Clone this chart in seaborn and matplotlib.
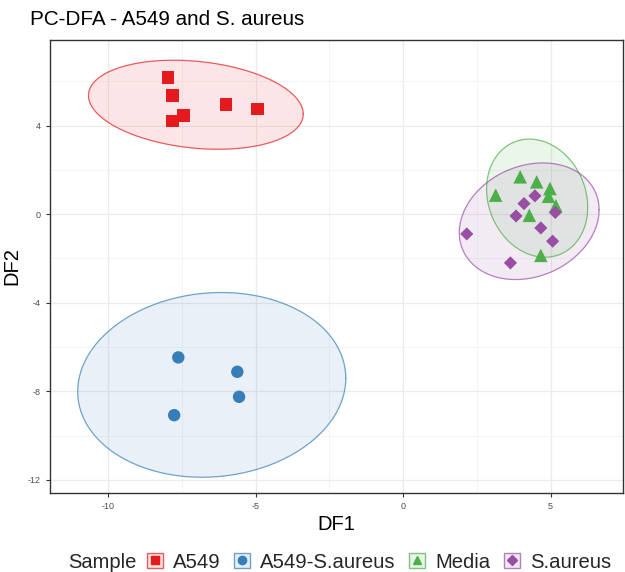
import numpy as np
import pandas as pd
import matplotlib
matplotlib.use("Agg")
import matplotlib.pyplot as plt
import seaborn as sns
from matplotlib.patches import Rectangle
from matplotlib.lines import Line2D
from matplotlib.ticker import MultipleLocator

# ---- data ----
a549_x = [-7.97, -7.81, -7.81, -7.45, -6.00, -4.94]
a549_y = [6.17, 5.35, 4.21, 4.47, 4.95, 4.75]
a549sa_x = [-7.62, -5.62, -5.56, -7.76]
a549sa_y = [-6.47, -7.12, -8.25, -9.08]
media_x = [3.97, 4.53, 4.98, 4.93, 3.14, 5.18, 4.28, 4.67]
media_y = [1.69, 1.46, 1.16, 0.81, 0.86, 0.38, -0.05, -1.86]
sa_x = [4.47, 4.10, 3.83, 5.16, 4.67, 5.07, 2.16, 3.64]
sa_y = [0.83, 0.48, -0.08, 0.08, -0.62, -1.22, -0.89, -2.20]

groups = ["A549", "A549-S.aureus", "Media", "S.aureus"]
colors = ["#E41A1C", "#377EB8", "#4DAF4A", "#984EA3"]
markers = ["s", "o", "^", "D"]
sizes = [85, 80, 95, 45]

df = pd.DataFrame({
    "DF1": a549_x + a549sa_x + media_x + sa_x,
    "DF2": a549_y + a549sa_y + media_y + sa_y,
    "Sample": (["A549"] * len(a549_x) + ["A549-S.aureus"] * len(a549sa_x)
               + ["Media"] * len(media_x) + ["S.aureus"] * len(sa_x)),
})


def cov_trob(x, nu=5, maxit=25, tol=0.01):
    n, p = x.shape
    wt = np.ones(n)
    loc = x.mean(axis=0)
    w = np.sqrt(wt)
    for _ in range(maxit):
        w0 = w
        X = x - loc
        _, d, vt = np.linalg.svd(np.sqrt(w / w.sum())[:, None] * X, full_matrices=False)
        wX = X @ vt.T @ np.diag(1 / d)
        Q = (wX ** 2).sum(axis=1)
        w = wt * (nu + p) / (nu + Q)
        loc = (w[:, None] * x).sum(axis=0) / w.sum()
        if np.all(np.abs(w - w0) < tol):
            break
    X = x - loc
    cov = (np.sqrt(w)[:, None] * X).T @ (np.sqrt(w)[:, None] * X) / wt.sum()
    return loc, cov


sns.set_theme(style="white")
plt.rcParams["font.family"] = ["Liberation Sans", "DejaVu Sans"]
plt.rcParams["axes.unicode_minus"] = False

fig = plt.figure(figsize=(6.25, 5.72), dpi=100)
ax = fig.add_axes([0.080, 0.138, 0.917, 0.792])

# stat_ellipse-like (multivariate t) 95% ellipses
level = 0.95
t = np.linspace(0, 2 * np.pi, 200)
for g, c in zip(groups, colors):
    xy = df[df["Sample"] == g][["DF1", "DF2"]].to_numpy()
    n = len(xy)
    mu, cov = cov_trob(xy)
    d = n - 1
    fq = d / 2 * ((1 - level) ** (-2 / d) - 1)
    r = np.sqrt(2 * fq)
    ch = np.linalg.cholesky(cov).T  # upper triangular
    circ = np.column_stack([np.cos(t), np.sin(t)])
    pts = mu + r * circ @ ch
    ax.fill(pts[:, 0], pts[:, 1], color=c, alpha=0.11, lw=0, zorder=1)
    ax.plot(pts[:, 0], pts[:, 1], color=c, alpha=0.7, lw=0.9, zorder=2)

for g, c, m, s in zip(groups, colors, markers, sizes):
    sub = df[df["Sample"] == g]
    sns.scatterplot(data=sub, x="DF1", y="DF2", color=c, marker=m, s=s,
                    edgecolor="none", ax=ax, zorder=3, legend=False)

ax.set_xlim(-11.97, 7.46)
ax.set_ylim(-12.6, 7.87)
ax.xaxis.set_major_locator(MultipleLocator(5))
ax.xaxis.set_minor_locator(MultipleLocator(2.5))
ax.yaxis.set_major_locator(MultipleLocator(4))
ax.yaxis.set_minor_locator(MultipleLocator(2))
ax.grid(True, which="major", color="#EBEBEB", lw=0.9, zorder=0)
ax.grid(True, which="minor", color="#F3F3F3", lw=0.6, zorder=0)
ax.set_axisbelow(True)
for sp in ax.spines.values():
    sp.set_color("#333333")
    sp.set_linewidth(1.0)
ax.tick_params(axis="both", which="major", labelsize=6.5, labelcolor="#4D4D4D",
               color="#333333", length=3, width=0.8, direction="out",
               bottom=True, left=True)
ax.tick_params(axis="both", which="minor", length=0)
ax.set_xlabel("DF1", fontsize=14.5, color="black", labelpad=3)
ax.set_ylabel("DF2", fontsize=14.5, color="black", labelpad=5)
fig.text(0.048, 0.966, "PC-DFA - A549 and S. aureus", fontsize=14.9,
         color="black", ha="left", va="center")

# legend
handles = []
for c, m in zip(colors, markers):
    box = Rectangle((0, 0), 1, 1, facecolor=matplotlib.colors.to_rgba(c, 0.12),
                    edgecolor=matplotlib.colors.to_rgba(c, 0.7), lw=1.0)
    mk = Line2D([], [], color=c, marker=m, linestyle="none",
                markersize=6 if m != "D" else 5)
    handles.append((box, mk))
fig.text(0.109, 0.017, "Sample", fontsize=14.5, ha="left", va="center")
leg = fig.legend(handles, groups, loc="center left", bbox_to_anchor=(0.235, 0.017),
                 ncol=4, frameon=False, fontsize=14.6, handlelength=0.8,
                 handleheight=0.8, handletextpad=0.5, columnspacing=0.65,
                 borderaxespad=0, borderpad=0)

fig.savefig("out.png", dpi=100)
